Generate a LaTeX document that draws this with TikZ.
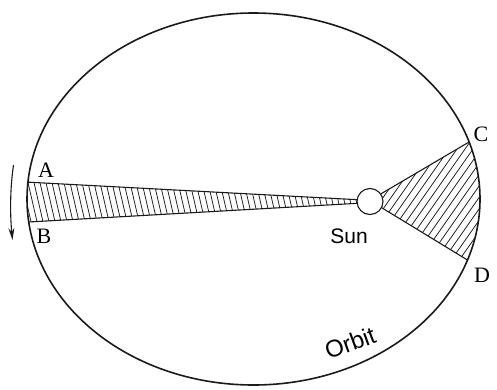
\documentclass[tikz,border=0pt]{standalone}
\usepackage{fontspec}
\setmainfont{Liberation Serif}
\newfontfamily\sunfont{Liberation Sans}
\usetikzlibrary{arrows.meta,calc}
\definecolor{ink}{HTML}{1A1A1A}

\begin{document}
\begin{tikzpicture}[x=1pt,y=1pt,
  orbit/.style={ink,line width=1.6pt},
  edge/.style={ink,line width=1.1pt},
  hatch/.style={ink,line width=0.75pt},
  lbl/.style={font=\fontsize{22}{26}\selectfont,inner sep=0pt}]
\useasboundingbox (0,0) rectangle (497,389);
\coordinate (O) at (253.5,190);
\node[circle,minimum size=26pt,inner sep=0pt] (sun) at (370,187.5) {};
\coordinate (A) at ($(O)+(174.8:226.5 and 186)$);
\coordinate (B) at ($(O)+(187.1:226.5 and 186)$);
\coordinate (C) at ($(O)+(17.85:226.5 and 186)$);
\coordinate (D) at ($(O)+(-19.15:226.5 and 186)$);
% swept area near aphelion
\begin{scope}
\clip (A) -- (sun.172) -- (sun.188) -- (B) arc[start angle=187.1,end angle=174.8,x radius=226.5,y radius=186] -- cycle;
\foreach \x in {14,20,...,380} \draw[hatch] (\x,215) -- ++(12.7,-55);
\end{scope}
\draw[edge] (A) -- (sun.172);
\draw[edge] (B) -- (sun.188);
% swept area near perihelion
\begin{scope}
\clip (sun.35) -- (C) arc[start angle=17.85,end angle=-19.15,x radius=226.5,y radius=186] -- (sun.-28) -- cycle;
\foreach \x in {230,238,...,480} \draw[hatch] (\x,110) -- ++(55:170);
\end{scope}
\draw[edge] (sun.35) -- (C);
\draw[edge] (sun.-28) -- (D);
\draw[orbit] (O) ellipse[x radius=226.5,y radius=186];
\draw[edge,fill=white] (sun) circle (13);
% direction of motion
\coordinate (arrtop) at (13.5,224);
\coordinate (arrbot) at (12.5,149);
\draw[edge,-{Stealth[length=12pt,width=6pt]}] (arrtop) .. controls (10,200) and (10,175) .. (arrbot);
\node[lbl] (la) at (46,219) {A};
\node[lbl] (lb) at (44,153) {B};
\node[lbl] (lc) at (481,255) {C};
\node[lbl] (ld) at (482,114) {D};
\node[lbl,font=\sunfont\fontsize{21}{25}\selectfont] (lsun) at (349,153) {Sun};
\node[lbl,font=\sunfont\fontsize{24}{28}\selectfont,rotate=20] (lorbit) at (350,46) {Orbit};
\end{tikzpicture}
\end{document}
